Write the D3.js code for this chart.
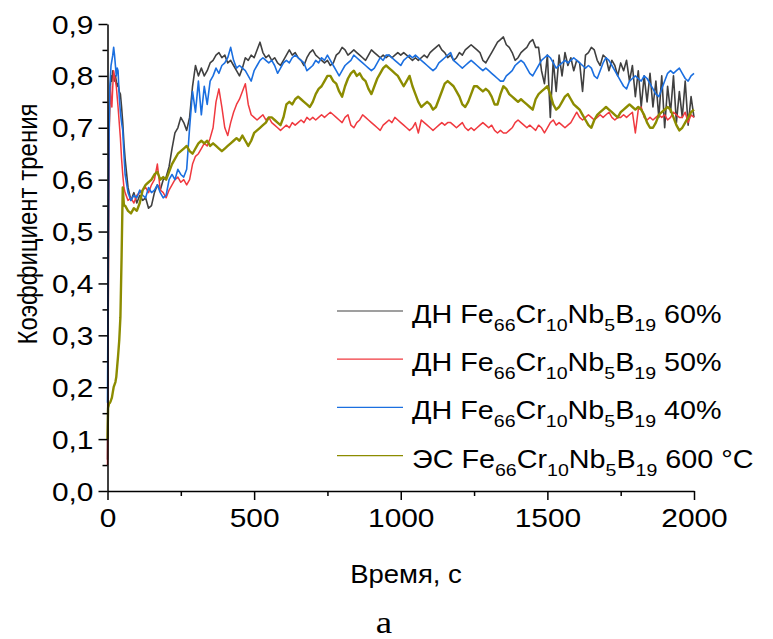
<!DOCTYPE html>
<html>
<head>
<meta charset="utf-8">
<script src="https://cdn.jsdelivr.net/npm/d3@7"></script>
<style>
  html, body { margin: 0; padding: 0; background: #fff; }
  svg { display: block; }
  text { font-family: "Liberation Sans", Arial, sans-serif; fill: #000; }
</style>
</head>
<body>
<svg id="chart" width="773" height="639"></svg>
<script>
// Friction coefficient vs. time, four coatings
const earlyTime = [0, 2, 4, 6, 8, 10, 12, 15, 18, 21, 24, 27, 30, 33, 36, 40, 44, 48, 52, 56];
const mainTime = d3.range(60, 2001, 10);
const time = earlyTime.concat(mainTime);

const black60 = [
  0.06, 0.30, 0.55, 0.70, 0.76, 0.78, 0.80, 0.79, 0.81, 0.80, 0.79, 0.80, 0.79, 0.78, 0.785, 0.77, 0.765, 0.74, 0.71, 0.67,
  0.64, 0.585, 0.56, 0.575, 0.555, 0.57, 0.56, 0.565, 0.545, 0.55,
  0.575, 0.59, 0.58, 0.60, 0.605, 0.625, 0.66, 0.69, 0.70, 0.72,
  0.71, 0.695, 0.72, 0.78, 0.82, 0.80, 0.815, 0.80, 0.81, 0.825,
  0.83, 0.84, 0.845, 0.835, 0.84, 0.825, 0.83, 0.82, 0.81, 0.80,
  0.815, 0.835, 0.83, 0.84, 0.835, 0.85, 0.865, 0.845, 0.835, 0.84,
  0.83, 0.835, 0.825, 0.82, 0.83, 0.84, 0.85, 0.84, 0.845, 0.835,
  0.83, 0.82, 0.835, 0.845, 0.85, 0.84, 0.835, 0.83, 0.825, 0.83,
  0.82, 0.825, 0.84, 0.845, 0.855, 0.85, 0.84, 0.845, 0.85, 0.845,
  0.84, 0.835, 0.83, 0.84, 0.85, 0.845, 0.84, 0.835, 0.84, 0.835,
  0.84, 0.835, 0.84, 0.845, 0.84, 0.845, 0.84, 0.835, 0.83, 0.835,
  0.83, 0.835, 0.84, 0.835, 0.845, 0.85, 0.855, 0.86, 0.85, 0.845,
  0.835, 0.84, 0.83, 0.835, 0.845, 0.84, 0.85, 0.855, 0.86, 0.855,
  0.85, 0.845, 0.83, 0.825, 0.835, 0.845, 0.855, 0.865, 0.87, 0.875,
  0.86, 0.855, 0.845, 0.83, 0.835, 0.845, 0.85, 0.855, 0.865, 0.87,
  0.855, 0.855, 0.81, 0.785, 0.84, 0.72, 0.83, 0.77, 0.84, 0.80,
  0.845, 0.82, 0.835, 0.81, 0.83, 0.825, 0.77, 0.84, 0.845, 0.855,
  0.85, 0.83, 0.82, 0.84, 0.835, 0.81, 0.83, 0.82, 0.80, 0.825,
  0.81, 0.83, 0.79, 0.82, 0.76, 0.81, 0.74, 0.80, 0.75, 0.805,
  0.74, 0.79, 0.72, 0.80, 0.70, 0.78, 0.73, 0.80, 0.71, 0.77,
  0.72, 0.79, 0.705, 0.76, 0.72
];

const red50 = [
  0.05, 0.25, 0.55, 0.70, 0.76, 0.78, 0.75, 0.74, 0.78, 0.81, 0.80, 0.79, 0.78, 0.76, 0.74, 0.71, 0.68, 0.64, 0.61, 0.585,
  0.575, 0.56, 0.565, 0.555, 0.57, 0.575, 0.58, 0.585, 0.575, 0.59,
  0.60, 0.63, 0.58, 0.575, 0.565, 0.58, 0.59, 0.60, 0.605, 0.595,
  0.60, 0.59, 0.60, 0.63, 0.645, 0.65, 0.66, 0.67, 0.665, 0.68,
  0.70, 0.75, 0.775, 0.74, 0.70, 0.685, 0.71, 0.73, 0.745, 0.755,
  0.77, 0.785, 0.745, 0.725, 0.72, 0.715, 0.72, 0.725, 0.715, 0.72,
  0.71, 0.705, 0.70, 0.695, 0.70, 0.705, 0.70, 0.71, 0.705, 0.71,
  0.715, 0.71, 0.72, 0.715, 0.72, 0.715, 0.72, 0.725, 0.72, 0.725,
  0.73, 0.725, 0.72, 0.715, 0.71, 0.72, 0.725, 0.705, 0.70, 0.71,
  0.715, 0.725, 0.72, 0.715, 0.71, 0.705, 0.70, 0.695, 0.705, 0.71,
  0.715, 0.71, 0.72, 0.715, 0.71, 0.705, 0.70, 0.695, 0.70, 0.71,
  0.69, 0.715, 0.71, 0.705, 0.70, 0.695, 0.70, 0.705, 0.71, 0.705,
  0.71, 0.71, 0.705, 0.70, 0.705, 0.71, 0.70, 0.695, 0.70, 0.695,
  0.70, 0.705, 0.71, 0.705, 0.70, 0.705, 0.695, 0.69, 0.695, 0.69,
  0.69, 0.695, 0.70, 0.71, 0.715, 0.71, 0.705, 0.70, 0.705, 0.70,
  0.695, 0.705, 0.70, 0.69, 0.70, 0.71, 0.715, 0.705, 0.71, 0.705,
  0.70, 0.705, 0.71, 0.72, 0.73, 0.72, 0.715, 0.72, 0.725, 0.72,
  0.715, 0.72, 0.725, 0.72, 0.725, 0.73, 0.72, 0.715, 0.72, 0.72,
  0.725, 0.72, 0.725, 0.73, 0.69, 0.735, 0.74, 0.72, 0.715, 0.72,
  0.715, 0.72, 0.725, 0.72, 0.725, 0.715, 0.72, 0.73, 0.725, 0.72,
  0.72, 0.73, 0.71, 0.725, 0.72
];

const blue40 = [
  0.17, 0.40, 0.60, 0.72, 0.78, 0.80, 0.82, 0.83, 0.84, 0.855, 0.84, 0.82, 0.80, 0.815, 0.81, 0.76, 0.73, 0.71, 0.695, 0.65,
  0.61, 0.575, 0.56, 0.57, 0.565, 0.58, 0.57, 0.565, 0.585, 0.575,
  0.58, 0.59, 0.575, 0.565, 0.57, 0.60, 0.61, 0.60, 0.62, 0.61,
  0.605, 0.62, 0.70, 0.77, 0.73, 0.79, 0.725, 0.78, 0.745, 0.79,
  0.80, 0.815, 0.805, 0.82, 0.825, 0.835, 0.855, 0.83, 0.815, 0.82,
  0.815, 0.81, 0.80, 0.79, 0.81, 0.82, 0.83, 0.835, 0.83, 0.825,
  0.83, 0.82, 0.805, 0.815, 0.825, 0.83, 0.825, 0.835, 0.84, 0.835,
  0.83, 0.825, 0.81, 0.815, 0.82, 0.83, 0.825, 0.835, 0.83, 0.84,
  0.83, 0.82, 0.81, 0.80, 0.81, 0.82, 0.825, 0.83, 0.84, 0.835,
  0.83, 0.825, 0.82, 0.815, 0.81, 0.815, 0.825, 0.835, 0.83, 0.84,
  0.84, 0.835, 0.83, 0.825, 0.82, 0.83, 0.835, 0.84, 0.835, 0.84,
  0.835, 0.83, 0.825, 0.82, 0.815, 0.81, 0.815, 0.825, 0.83, 0.835,
  0.84, 0.845, 0.83, 0.825, 0.82, 0.815, 0.82, 0.825, 0.83, 0.825,
  0.82, 0.815, 0.81, 0.815, 0.81, 0.805, 0.80, 0.795, 0.79, 0.79,
  0.80, 0.805, 0.81, 0.82, 0.825, 0.83, 0.825, 0.815, 0.805, 0.80,
  0.81, 0.82, 0.83, 0.835, 0.84, 0.835, 0.825, 0.815, 0.82, 0.825,
  0.83, 0.825, 0.83, 0.835, 0.83, 0.825, 0.82, 0.815, 0.82, 0.815,
  0.80, 0.795, 0.81, 0.825, 0.835, 0.83, 0.82, 0.81, 0.80, 0.79,
  0.78, 0.775, 0.79, 0.795, 0.80, 0.795, 0.79, 0.80, 0.795, 0.785,
  0.775, 0.765, 0.76, 0.775, 0.79, 0.805, 0.81, 0.805, 0.81, 0.815,
  0.805, 0.795, 0.79, 0.80, 0.805
];

const olive600 = [
  0.10, 0.16, 0.165, 0.17, 0.17, 0.172, 0.175, 0.18, 0.19, 0.20, 0.205, 0.21, 0.22, 0.24, 0.26, 0.29, 0.335, 0.45, 0.585, 0.55,
  0.55, 0.54, 0.535, 0.545, 0.54, 0.555, 0.58, 0.59, 0.595, 0.60,
  0.61, 0.615, 0.60, 0.605, 0.60, 0.615, 0.63, 0.64, 0.65, 0.655,
  0.66, 0.665, 0.655, 0.65, 0.66, 0.67, 0.675, 0.67, 0.675, 0.665,
  0.67, 0.665, 0.66, 0.655, 0.66, 0.665, 0.67, 0.675, 0.68, 0.675,
  0.685, 0.675, 0.665, 0.675, 0.69, 0.695, 0.70, 0.705, 0.71, 0.72,
  0.72, 0.715, 0.71, 0.705, 0.72, 0.745, 0.75, 0.745, 0.755, 0.76,
  0.755, 0.75, 0.745, 0.74, 0.75, 0.765, 0.775, 0.78, 0.79, 0.80,
  0.80, 0.79, 0.785, 0.77, 0.76, 0.78, 0.795, 0.805, 0.81, 0.80,
  0.805, 0.795, 0.79, 0.775, 0.765, 0.78, 0.795, 0.805, 0.815, 0.82,
  0.815, 0.81, 0.805, 0.80, 0.79, 0.78, 0.79, 0.80, 0.78, 0.765,
  0.75, 0.74, 0.745, 0.75, 0.745, 0.735, 0.74, 0.755, 0.77, 0.785,
  0.79, 0.785, 0.78, 0.77, 0.76, 0.745, 0.74, 0.75, 0.765, 0.78,
  0.78, 0.775, 0.77, 0.775, 0.77, 0.76, 0.745, 0.745, 0.765, 0.78,
  0.775, 0.765, 0.76, 0.755, 0.75, 0.755, 0.75, 0.745, 0.74, 0.735,
  0.755, 0.765, 0.77, 0.775, 0.78, 0.765, 0.745, 0.735, 0.74, 0.75,
  0.76, 0.765, 0.755, 0.745, 0.74, 0.735, 0.725, 0.715, 0.705, 0.70,
  0.715, 0.725, 0.73, 0.735, 0.74, 0.735, 0.73, 0.725, 0.72, 0.73,
  0.735, 0.74, 0.745, 0.74, 0.735, 0.74, 0.735, 0.725, 0.71, 0.70,
  0.70, 0.71, 0.725, 0.73, 0.735, 0.74, 0.735, 0.72, 0.705, 0.695,
  0.70, 0.71, 0.72, 0.73, 0.735
];

const seriesNames = [
  ["ДН Fe", "66", "Cr", "10", "Nb", "5", "B", "19", " 60%"],
  ["ДН Fe", "66", "Cr", "10", "Nb", "5", "B", "19", " 50%"],
  ["ДН Fe", "66", "Cr", "10", "Nb", "5", "B", "19", " 40%"],
  ["ЭС Fe", "66", "Cr", "10", "Nb", "5", "B", "19", " 600 °C"]
];
const seriesColors = ["#404040", "#f0393f", "#1b6fe0", "#8c8c00"];
const seriesWidths = [1.6, 1.5, 1.6, 2.4];
const seriesValues = [black60, red50, blue40, olive600];

const xTicks = [0, 500, 1000, 1500, 2000];
const yTicks = [0, 0.1, 0.2, 0.3, 0.4, 0.5, 0.6, 0.7, 0.8, 0.9];
const xLabel = "Время, с";
const yLabel = "Коэффициент трения";
const panelLabel = "а";

const SX = 1.15; // horizontal stretch of the lettering
const fmt = v => d3.format(".1f")(v).replace(".", ",");

const svg = d3.select("#chart");
const x = d3.scaleLinear().domain([0, 2000]).range([107.5, 694]);
const y = d3.scaleLinear().domain([0, 0.9]).range([491, 24]);

// data lines
const line = d3.line().x(d => x(d[0])).y(d => y(d[1]));
const plot = svg.append("g");
seriesValues.forEach((vals, i) => {
  const pts = time.map((t, k) => [t, vals[k]]);
  plot.append("path")
    .attr("d", line(pts))
    .attr("fill", "none")
    .attr("stroke", seriesColors[i])
    .attr("stroke-width", seriesWidths[i])
    .attr("stroke-linejoin", "round");
});

// axes
function styleAxis(g) {
  g.select(".domain").attr("stroke", "#000").attr("stroke-width", 1.5);
  g.selectAll(".tick line").attr("stroke", "#000").attr("stroke-width", 1.5);
}
const xAxis = svg.append("g").attr("transform", `translate(0,${y(0)})`)
  .call(d3.axisBottom(x).tickValues(xTicks).tickSize(9).tickSizeOuter(0).tickFormat(d3.format("d")));
xAxis.call(styleAxis);
xAxis.selectAll(".tick text")
  .attr("font-size", 26).attr("y", 0).attr("dy", 0)
  .attr("transform", `translate(0,36) scale(${SX},1)`)
  .style("font-family", "'Liberation Sans', Arial, sans-serif");
svg.append("g").attr("transform", `translate(0,${y(0)})`)
  .call(d3.axisBottom(x).tickValues([250, 750, 1250, 1750]).tickSize(5).tickFormat(""))
  .call(g => g.select(".domain").remove())
  .call(styleAxis);

const yAxis = svg.append("g").attr("transform", `translate(${x(0)},0)`)
  .call(d3.axisLeft(y).tickValues(yTicks).tickSize(9).tickSizeOuter(0).tickFormat(fmt));
yAxis.call(styleAxis);
yAxis.selectAll(".tick text")
  .attr("font-size", 26).attr("x", 0).attr("dy", 0)
  .attr("transform", `translate(-14,9) scale(${SX},1)`)
  .style("font-family", "'Liberation Sans', Arial, sans-serif");
svg.append("g").attr("transform", `translate(${x(0)},0)`)
  .call(d3.axisLeft(y).tickValues(d3.range(0.05, 0.9, 0.1)).tickSize(5).tickFormat(""))
  .call(g => g.select(".domain").remove())
  .call(styleAxis);

// axis titles
svg.append("text")
  .attr("transform", `translate(406,583) scale(1.1,1)`)
  .attr("text-anchor", "middle").attr("font-size", 25)
  .text(xLabel);
svg.append("text")
  .attr("transform", `translate(37,224) rotate(-90) scale(1,${SX})`)
  .attr("text-anchor", "middle").attr("font-size", 24)
  .text(yLabel);
svg.append("text")
  .attr("transform", `translate(384,633) scale(${SX},1)`)
  .attr("text-anchor", "middle").attr("font-size", 32)
  .style("font-family", "'Liberation Serif', 'Times New Roman', serif")
  .text(panelLabel);

// legend
const legend = svg.append("g");
seriesNames.forEach((parts, i) => {
  const ry = 311 + i * 48.2;
  legend.append("line")
    .attr("x1", 337).attr("x2", 403).attr("y1", ry).attr("y2", ry)
    .attr("stroke", seriesColors[i]).attr("stroke-width", 1.2);
  const t = legend.append("text")
    .attr("transform", `translate(412,${ry + 12}) scale(${SX},1)`)
    .attr("font-size", 25);
  parts.forEach((p, k) => {
    const sub = k % 2 === 1;
    t.append("tspan")
      .attr("font-size", sub ? 17 : 25)
      .attr("dy", sub ? 8 : (k > 0 ? -8 : 0))
      .text(p);
  });
});
</script>
</body>
</html>
